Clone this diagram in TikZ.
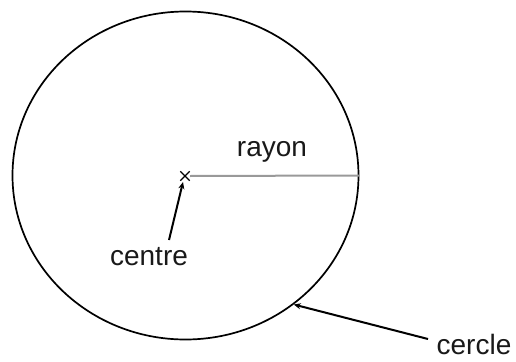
\documentclass[tikz,border=0pt]{standalone}
\usepackage{fontspec}
\setmainfont{Liberation Sans}
\usetikzlibrary{shapes.geometric,shapes.misc,arrows.meta}
\begin{document}
\begin{tikzpicture}[x=1pt,y=-1pt,
  lbl/.style={font=\fontsize{28}{30}\selectfont, text=black!90, inner sep=0pt},
  ptr/.style={line width=2pt, -{Stealth[length=7pt,width=6pt]}},
  rim/.style={draw, ellipse, line width=1.7pt, inner sep=0pt}]
\useasboundingbox (0,0) rectangle (516,361);
\node[rim, minimum width=346pt, minimum height=328pt] (circ) at (185.5,175.5) {};
\node[cross out, draw, line width=1.3pt, minimum size=8pt, inner sep=0pt] (C) at (185,176) {};
\draw[line width=2pt, black!40] (C.center) ++(5,0) -- (circ.east);
\node[lbl] (rayon) at (272,152) {rayon};
\node[lbl] (centre) at (149,257) {centre};
\node[lbl] (cercle) at (474,344) {cercle};
\coordinate (cs) at (169,240);
\coordinate (ks) at (428,339);
\draw[ptr] (cs) -- (183,182);
\draw[ptr] (ks) -- (circ.-50.5);
\end{tikzpicture}
\end{document}
